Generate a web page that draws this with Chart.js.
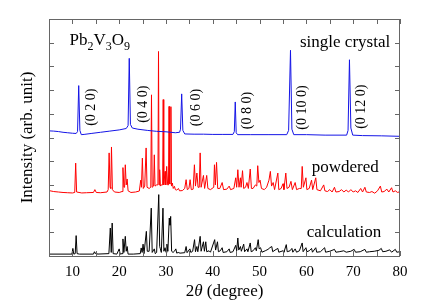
<!DOCTYPE html>
<html>
<head>
<meta charset="utf-8">
<script src="https://cdn.jsdelivr.net/npm/chart.js@4"></script>
<style>
html,body{margin:0;padding:0;background:#fff;}
#wrap{width:436px;height:304px;}
</style>
</head>
<body>
<div id="wrap"><canvas id="c" width="436" height="304"></canvas></div>
<script>
// ---- data (2θ in degrees, intensity in arb. units with vertical offsets) ----
const seriesNames = ['single crystal', 'powdered', 'calculation'];
const xTickValues = [10, 20, 30, 40, 50, 60, 70, 80];

const singleCrystal = [
[5,5.28],[6,5.27],[7,5.25],[8,5.22],[9,5.2],[10,5.18],[10.8,5.17],[11.1,5.25],[11.35,7.19],[11.6,5.3],[11.9,5.12],
[12.5,5.13],[14,5.17],[16,5.22],[18,5.27],[20,5.32],[21.5,5.38],[21.9,5.5],[22.15,8.34],[22.4,5.55],[22.8,5.4],
[24,5.35],[26,5.3],[28,5.26],[30,5.24],[32,5.2],[32.9,5.22],[33.1,5.35],[33.35,6.84],[33.6,5.3],[34,5.15],[36,5.14],
[38,5.14],[40,5.13],[42,5.13],[44.3,5.13],[44.6,5.25],[44.8,6.5],[45.0,5.2],[45.3,5.12],[48,5.12],[52,5.12],
[55.8,5.12],[56.2,5.3],[56.6,8.68],[56.9,5.35],[57.3,5.12],[60,5.12],[64,5.1],[68.6,5.1],[68.9,5.3],[69.2,8.28],
[69.5,5.4],[69.9,5.1],[72,5.08],[76,5.07],[80,5.05]
];

const powdered = [
[5,2.76],[6,2.72],[7,2.7],[8,2.68],[9,2.67],[10,2.66],[10.5,2.68],[10.7,3.92],[10.9,2.7],[12,2.66],[13,2.67],
[14.5,2.68],[14.8,2.8],[15.1,2.68],[16,2.67],[17.4,2.7],[17.65,2.8],[17.85,4.35],[18.05,2.9],[18.2,2.85],[18.35,4.6],[18.55,2.8],
[19,2.7],[20,2.68],[20.6,2.72],[20.8,3.73],[21.0,2.9],[21.15,2.9],[21.3,3.85],[21.5,3.0],[21.7,3.25],[21.9,2.75],[22.5,2.68],
[23.5,2.7],[24.3,2.74],[24.6,3.2],[24.75,2.9],[24.95,4.13],[25.15,2.85],[25.45,2.95],[25.75,4.56],[25.95,2.9],
[26.4,2.85],[26.75,2.9],[26.9,6.8],[27.05,2.9],[27.35,2.95],[27.5,4.27],[27.65,2.95],[28.0,3.0],[28.28,3.0],
[28.4,8.63],[28.52,3.0],[28.65,3.64],[28.8,2.95],[29.0,3.0],[29.28,3.0],[29.4,6.6],[29.52,3.0],[29.8,3.57],
[29.95,3.0],[30.15,3.78],[30.35,3.0],[30.53,3.0],[30.65,6.31],[30.77,3.05],[30.93,3.05],[31.05,6.3],[31.17,2.95],
[31.35,3.08],[31.55,2.85],[31.8,2.94],[32.0,2.8],[32.3,2.78],[32.65,2.85],
[32.9,2.75],[33.5,2.76],[34.0,2.85],[34.3,3.22],[34.55,2.8],[34.9,2.85],[35.15,3.22],[35.4,2.8],[35.8,2.82],
[36.07,3.85],[36.3,2.95],[36.6,3.5],[36.85,2.9],[37.1,2.9],[37.3,4.35],[37.5,2.9],[38.0,3.4],[38.25,2.85],[38.7,3.4],
[38.95,2.85],[39.5,2.8],[40.2,2.9],[40.35,3.85],[40.55,3.0],[40.8,3.95],[41.05,2.85],[41.5,2.85],[42.0,3.1],[42.3,2.8],
[43,2.82],[43.5,2.95],[43.8,2.8],[44.5,2.85],[44.9,3.3],[45.1,2.9],[45.35,3.64],[45.6,2.9],[45.9,3.3],[46.05,2.9],
[46.35,3.6],[46.6,2.85],[47.0,2.9],[47.3,3.1],[47.6,2.85],[48.0,3.67],[48.25,2.85],[48.6,2.85],[49.1,3.0],
[49.4,2.95],[49.6,3.81],[49.85,3.1],[50.1,3.2],[50.4,2.85],[51,2.8],[51.5,2.9],[52.0,3.2],[52.3,3.57],[52.55,2.95],[52.9,3.1],
[53.2,2.8],[53.9,3.5],[54.1,2.8],[54.6,2.85],[55.0,3.05],[55.2,2.8],[55.6,3.5],[55.85,2.85],[56.3,2.9],[56.7,3.15],
[57.0,2.8],[57.6,3.1],[57.9,2.8],[58.5,2.85],[58.9,2.85],[59.1,3.78],[59.35,2.9],[59.9,3.3],[60.1,2.8],[60.6,2.85],[61.1,3.2],
[61.35,2.8],[62.0,3.3],[62.25,2.8],[63,2.75],[63.7,3.0],[63.95,2.75],[64.5,2.72],[65,2.8],[65.5,2.7],[66.0,2.9],
[66.3,2.7],[67,2.72],[67.5,2.8],[68,2.7],[68.5,2.78],[69,2.7],[69.5,2.8],[70,2.7],[70.5,2.75],[71,2.68],[71.6,2.85],
[72,2.7],[72.5,2.9],[72.8,2.7],[73.5,2.68],[74,2.72],[74.6,2.65],[75.2,2.75],[75.8,2.95],[76.1,2.7],[76.6,2.72],
[77.2,2.82],[77.6,2.7],[78.2,2.88],[78.5,2.7],[79,2.75],[79.5,2.68],[80,2.72]
];

const calculation = [
[5,0.08],[9.9,0.08],[10.1,0.32],[10.3,0.08],[10.6,0.1],[10.8,0.86],[11.0,0.1],[11.5,0.08],[14.5,0.08],[14.7,0.18],
[14.9,0.1],[15.1,0.15],[15.3,0.08],[17.8,0.1],[18.1,1.18],[18.3,0.15],[18.5,1.39],[18.7,0.1],[19.5,0.08],[20.0,0.3],
[20.2,0.08],[20.6,0.1],[20.8,0.72],[21.0,0.15],[21.3,0.83],[21.5,0.2],[21.7,0.4],[21.9,0.08],[23,0.08],[24.5,0.1],
[24.7,0.34],[24.9,0.15],[25.1,0.5],[25.3,0.1],[25.8,1.04],[26.0,0.2],[26.4,0.2],[26.85,2.02],[27.05,0.15],[27.5,0.3],
[27.7,0.1],[28.0,0.15],[28.45,2.59],[28.65,0.4],[28.8,0.3],[29.0,0.15],[29.35,2.02],[29.55,0.2],[29.8,0.35],
[30.0,0.15],[30.2,0.5],[30.4,0.2],[30.7,1.6],[30.85,1.3],[31.0,1.67],[31.2,0.2],[31.5,0.15],[31.8,0.2],[32.1,0.3],
[32.3,0.12],[32.6,0.15],[33.0,0.12],[34.0,0.14],[34.3,0.4],[34.5,0.14],[35.1,0.3],[35.3,0.15],[35.7,0.2],
[36.1,0.69],[36.3,0.18],[36.6,0.4],[36.8,0.18],[37.3,0.83],[37.5,0.2],[38.0,0.6],[38.2,0.2],[38.5,0.6],[38.7,0.18],
[39.2,0.22],[39.5,0.16],[40.4,0.69],[40.6,0.25],[41.0,0.6],[41.2,0.18],[41.6,0.22],[42.0,0.35],[42.2,0.15],
[43,0.18],[43.5,0.3],[43.7,0.15],[44.3,0.18],[44.9,0.45],[45.1,0.22],[45.35,0.76],[45.55,0.25],[45.9,0.4],
[46.1,0.2],[46.6,0.5],[46.8,0.18],[47.3,0.3],[47.5,0.18],[48.0,0.55],[48.2,0.18],[48.6,0.22],[49.1,0.35],
[49.3,0.22],[49.7,0.69],[49.9,0.3],[50.2,0.35],[50.5,0.16],[51.2,0.22],[51.8,0.28],[52.2,0.35],[52.6,0.4],
[52.8,0.18],[53.3,0.25],[53.9,0.32],[54.1,0.16],[55.0,0.22],[55.2,0.16],[55.7,0.48],[55.9,0.18],[56.5,0.22],
[56.9,0.32],[57.1,0.16],[57.6,0.3],[57.9,0.16],[58.5,0.22],[59.1,0.55],[59.3,0.18],[59.9,0.35],[60.1,0.18],
[60.6,0.22],[61.1,0.32],[61.3,0.16],[62.0,0.35],[62.2,0.16],[63,0.18],[63.9,0.35],[64.1,0.16],[65,0.2],[66,0.28],
[66.3,0.16],[67,0.18],[68,0.22],[68.5,0.16],[69.5,0.2],[70.2,0.28],[70.5,0.16],[71.5,0.18],[72.5,0.28],[72.8,0.16],
[73.5,0.18],[74.5,0.2],[75.5,0.24],[76.0,0.32],[76.3,0.18],[77,0.2],[77.8,0.26],[78.2,0.16],[79.0,0.28],[79.3,0.16],[80,0.18]
];

// Miller-index labels of the single-crystal reflections
const peakLabels = ['(0 2 0)', '(0 4 0)', '(0 6 0)', '(0 8 0)', '(0 10 0)', '(0 12 0)'];
const peakTwoTheta = [11.35, 22.15, 33.35, 44.8, 56.6, 69.2];

const toPts = arr => arr.map(p => ({x: p[0], y: p[1]}));
const SERIF = '"Liberation Serif", "Times New Roman", serif';

const decor = {
  id: 'decor',
  afterDraw(chart) {
    const ctx = chart.ctx, a = chart.chartArea;
    const xs = chart.scales.x, ys = chart.scales.y;
    ctx.save();
    // frame
    ctx.strokeStyle = '#666';
    ctx.lineWidth = 1;
    ctx.strokeRect(Math.round(a.left) + 0.5, Math.round(a.top) + 0.5,
                   Math.round(a.right - a.left) - 1, Math.round(a.bottom - a.top));
    // inward ticks
    const tl = 5;
    ctx.beginPath();
    xs.ticks.forEach(t => {
      const px = Math.round(xs.getPixelForValue(t.value)) + 0.5;
      ctx.moveTo(px, a.bottom); ctx.lineTo(px, a.bottom - tl);
      ctx.moveTo(px, a.top); ctx.lineTo(px, a.top + tl);
    });
    ys.ticks.forEach(t => {
      const py = Math.round(ys.getPixelForValue(t.value)) + 0.5;
      ctx.moveTo(a.left, py); ctx.lineTo(a.left + tl, py);
      ctx.moveTo(a.right, py); ctx.lineTo(a.right - tl, py);
    });
    ctx.stroke();

    ctx.fillStyle = '#000';
    ctx.textBaseline = 'alphabetic';
    // series labels
    ctx.font = '17px ' + SERIF;
    ctx.textAlign = 'left';
    ctx.fillText(seriesNames[0], 300, 46.7);
    ctx.fillText(seriesNames[1], 311.7, 171.7);
    ctx.fillText(seriesNames[2], 306.7, 236.7);

    // compound formula Pb2V3O9
    let x = 69.5;
    const parts = [['Pb', 0], ['2', 1], ['V', 0], ['3', 1], ['O', 0], ['9', 1]];
    parts.forEach(([s, sub]) => {
      ctx.font = (sub ? '12px ' : '17px ') + SERIF;
      ctx.fillText(s, x, sub ? 50 : 44.5);
      x += ctx.measureText(s).width;
    });

    // peak labels (rotated)
    ctx.font = '14px ' + SERIF;
    ctx.textAlign = 'center';
    const dx = [12, 14, 15, 12.2, 11.9, 11.3];
    const cy = [107.2, 104.2, 107.5, 110.5, 107.5, 106.7];
    peakLabels.forEach((lab, i) => {
      const px = xs.getPixelForValue(peakTwoTheta[i]) + dx[i];
      ctx.save();
      ctx.translate(px + 3.8, cy[i]);
      ctx.rotate(-Math.PI / 2);
      ctx.fillText(lab, 0, 0);
      ctx.restore();
    });

    // y-axis title
    ctx.font = '17px ' + SERIF;
    ctx.save();
    ctx.translate(31.5, (a.top + a.bottom) / 2);
    ctx.rotate(-Math.PI / 2);
    ctx.textAlign = 'center';
    ctx.fillText('Intensity (arb. unit)', 0, 0);
    ctx.restore();

    // x-axis title: 2θ (degree), θ italic
    const segs = [['2', ''], ['\u03B8', 'italic '], [' (degree)', '']];
    let total = 0;
    segs.forEach(([s, st]) => { ctx.font = st + '17px ' + SERIF; total += ctx.measureText(s).width; });
    let sx = (a.left + a.right) / 2 - total / 2;
    ctx.textAlign = 'left';
    segs.forEach(([s, st]) => {
      ctx.font = st + '17px ' + SERIF;
      ctx.fillText(s, sx, 296);
      sx += ctx.measureText(s).width;
    });
    ctx.restore();
  }
};

new Chart(document.getElementById('c'), {
  type: 'scatter',
  data: {
    datasets: [
      {label: seriesNames[0], data: toPts(singleCrystal), showLine: true, borderColor: '#1414e6', borderWidth: 1, pointRadius: 0, tension: 0},
      {label: seriesNames[1], data: toPts(powdered), showLine: true, borderColor: '#ff0000', borderWidth: 1, pointRadius: 0, tension: 0},
      {label: seriesNames[2], data: toPts(calculation), showLine: true, borderColor: '#000000', borderWidth: 1, pointRadius: 0, tension: 0}
    ]
  },
  options: {
    responsive: false,
    animation: false,
    devicePixelRatio: 1,
    layout: {padding: {left: 49, right: 36, top: 19, bottom: 0}},
    plugins: {legend: {display: false}, tooltip: {enabled: false}},
    scales: {
      x: {
        type: 'linear', min: 5, max: 80,
        grid: {display: false, drawTicks: false},
        border: {display: false},
        ticks: {
          stepSize: 5, autoSkip: false, maxRotation: 0, padding: 7, color: '#000',
          font: {family: SERIF, size: 15},
          callback: v => (xTickValues.includes(v) ? String(v) : '')
        },
        afterFit: s => { s.height = 48; }
      },
      y: {
        type: 'linear', min: 0, max: 10,
        grid: {display: false, drawTicks: false},
        border: {display: false},
        ticks: {display: false, stepSize: 1},
        afterFit: s => { s.width = 0; }
      }
    }
  },
  plugins: [decor]
});
</script>
</body>
</html>
